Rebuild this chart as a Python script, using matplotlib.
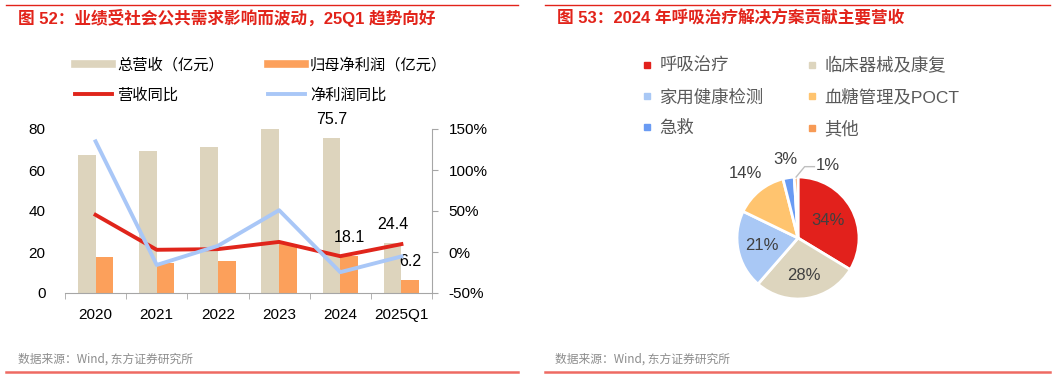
import numpy as np
import matplotlib.pyplot as plt
from matplotlib.lines import Line2D

plt.rcParams['font.family'] = ['Liberation Sans', 'Noto Sans CJK SC']
plt.rcParams['axes.unicode_minus'] = False

# Left chart data
YEARS = ['2020', '2021', '2022', '2023', '2024', '2025Q1']
REVENUE = [67.3, 69.1, 71.2, 79.8, 75.7, 24.4]       # 亿元
PROFIT = [17.6, 14.8, 15.8, 23.9, 18.1, 6.2]         # 亿元
REV_YOY = [45.3, 2.7, 3.5, 12.3, -5.1, 9.6]          # %
PROFIT_YOY = [134.9, -15.8, 7.5, 51.0, -24.6, -5.4]  # %
REV_LABELED = ['2024', '2025Q1']
PROFIT_LABELED = ['2024', '2025Q1']

# Right chart data
SEGMENTS = ['呼吸治疗', '临床器械及康复', '家用健康检测', '血糖管理及POCT', '急救', '其他']
SHARES = [34, 28, 21, 14, 3, 1]

W, H = 1061, 378
RED = '#E2231A'
TAN = '#DDD4BD'
ORANGE = '#FCA05B'
LINE_RED = '#E0251B'
LINE_BLUE = '#A9C7F7'
PIE_COLORS = ['#E2211C', '#DDD5BE', '#A9C8F5', '#FFC46F', '#6A9BF3', '#F79A55']
GRID_GRAY = '#A6A6A6'


def px_rect(x0, y0, x1, y1):
    """pixel box (top-left origin) -> figure fraction rect"""
    return [x0 / W, (H - y1) / H, (x1 - x0) / W, (y1 - y0) / H]


def draw_frame(fig):
    # red rules at top and bottom of both panels
    for x0, x1 in [(6, 518), (545, 1050)]:
        fig.add_artist(Line2D([x0 / W, x1 / W], [1 - 5 / H] * 2, color=RED, lw=1))
        fig.add_artist(Line2D([x0 / W, x1 / W], [1 - 372 / H] * 2, color='#EE6A63', lw=1.8))
    fig.text(18 / W, 1 - 18 / H, '图 52：业绩受社会公共需求影响而波动，25Q1 趋势向好',
             color=RED, fontsize=12, weight='bold', va='center', ha='left')
    fig.text(557 / W, 1 - 18 / H, '图 53：2024 年呼吸治疗解决方案贡献主要营收',
             color=RED, fontsize=12, weight='bold', va='center', ha='left')
    for x in (18, 555):
        fig.text(x / W, 1 - 359 / H, '数据来源：Wind, 东方证券研究所',
                 color='#8C8C8C', fontsize=8.5, va='center', ha='left',
                 family=['Noto Sans CJK SC'])


def draw_bars(fig):
    ax = fig.add_axes(px_rect(65, 129, 432, 293))
    x = np.arange(len(YEARS))
    bw = 0.29
    b_rev = ax.bar(x - bw / 2, REVENUE, bw, color=TAN)
    b_pro = ax.bar(x + bw / 2, PROFIT, bw, color=ORANGE)
    ax.set_xlim(-0.5, len(YEARS) - 0.5)
    ax.set_ylim(0, 80)
    ax.set_yticks([0, 20, 40, 60, 80])
    ax.set_xticks(x)
    ax.set_xticklabels(YEARS)
    ax.set_xticks(np.arange(-0.5, len(YEARS)), minor=True)
    ax.tick_params(axis='x', which='major', length=0, pad=11, labelsize=11)
    ax.tick_params(axis='x', which='minor', length=4, color=GRID_GRAY)
    ax.tick_params(axis='y', length=0, pad=14, labelsize=11)
    for s in ['top', 'left', 'right']:
        ax.spines[s].set_visible(False)
    ax.spines['bottom'].set_color(GRID_GRAY)

    for bars, vals, keep in [(b_rev, REVENUE, REV_LABELED), (b_pro, PROFIT, PROFIT_LABELED)]:
        labels = [f'{v:.1f}' if y in keep else '' for v, y in zip(vals, YEARS)]
        ax.bar_label(bars, labels=labels, padding=8, fontsize=11.5)

    ax2 = ax.twinx()
    ax2.plot(x, np.array(REV_YOY) / 100, color=LINE_RED, lw=2.8)
    ax2.plot(x, np.array(PROFIT_YOY) / 100, color=LINE_BLUE, lw=2.8)
    ax2.set_ylim(-0.5, 1.5)
    ax2.set_yticks([-0.5, 0, 0.5, 1.0, 1.5])
    ax2.set_yticklabels([f'{v:.0%}' for v in [-0.5, 0, 0.5, 1.0, 1.5]])
    ax2.tick_params(axis='y', length=4, color=GRID_GRAY, pad=8, labelsize=11)
    for s in ['top', 'left', 'bottom']:
        ax2.spines[s].set_visible(False)
    ax2.spines['right'].set_color(GRID_GRAY)

    handles = [Line2D([], [], color=TAN, lw=5.5), Line2D([], [], color=LINE_RED, lw=2.8),
               Line2D([], [], color=ORANGE, lw=5.5), Line2D([], [], color=LINE_BLUE, lw=2.8)]
    labels = ['总营收（亿元）', '营收同比', '归母净利润（亿元）', '净利润同比']
    fig.legend(handles, labels, ncol=2, loc='upper left',
               bbox_to_anchor=(75 / W, 1 - 58 / H), frameon=False,
               fontsize=11, handlelength=2.4, handletextpad=0.35,
               columnspacing=2.9, labelspacing=1.0, borderpad=0, borderaxespad=0)


def draw_pie(fig):
    cx, cy, r = 798, 238, 61
    half = 1.3 * r
    ax = fig.add_axes(px_rect(cx - half, cy - half, cx + half, cy + half))
    wedges, _ = ax.pie(SHARES, colors=PIE_COLORS, startangle=90, counterclock=False,
                       wedgeprops=dict(edgecolor='white', linewidth=2))
    ax.set_xlim(-1.3, 1.3)
    ax.set_ylim(-1.3, 1.3)
    ax.set_aspect('equal')
    ax.axis('off')

    radii = [0.57, 0.62, 0.6, 1.36, 1.3, None]
    for w, v, rr in zip(wedges, SHARES, radii):
        ang = np.deg2rad((w.theta1 + w.theta2) / 2)
        if rr is None:
            # smallest slice: leader line out to the right
            x0, y0 = np.cos(ang) * 1.0, np.sin(ang) * 1.0
            ax.plot([x0, x0 + 0.14, x0 + 0.3], [y0, y0 + 0.17, y0 + 0.17],
                    color='#BFBFBF', lw=1, clip_on=False)
            ax.text(x0 + 0.33, y0 + 0.19, f'{v}%', ha='left', va='center',
                    fontsize=12, color='#404040')
            continue
        ax.text(rr * np.cos(ang), rr * np.sin(ang), f'{v}%', ha='center', va='center',
                fontsize=12, color='#404040')

    handles = [Line2D([], [], marker='s', ls='', color=c, markersize=4.5) for c in PIE_COLORS]
    order = [0, 2, 4, 1, 3, 5]
    fig.legend([handles[i] for i in order], [SEGMENTS[i] for i in order], ncol=2,
               loc='upper left', bbox_to_anchor=(643 / W, 1 - 57 / H), frameon=False,
               fontsize=12.5, labelcolor='#595959', handlelength=0.5, handletextpad=0.45,
               columnspacing=2.55, labelspacing=0.85, borderpad=0, borderaxespad=0)


def main():
    fig = plt.figure(figsize=(W / 100, H / 100), dpi=100)
    draw_frame(fig)
    draw_bars(fig)
    draw_pie(fig)
    fig.savefig('out.png', dpi=100)


if __name__ == '__main__':
    main()
